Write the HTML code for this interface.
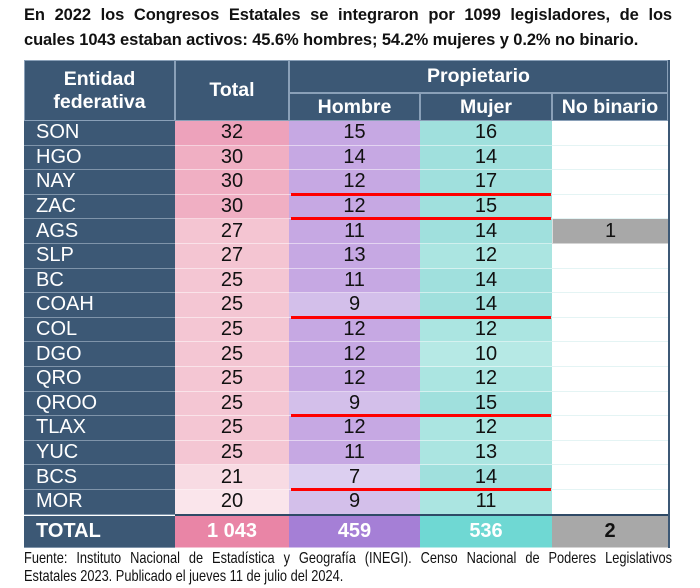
<!DOCTYPE html>
<html><head><meta charset="utf-8"><style>
body{margin:0;width:700px;height:588px;background:#fff;position:relative;overflow:hidden;font-family:"Liberation Sans",sans-serif}
.t{position:absolute;left:24px;width:648px;font-weight:bold;font-size:16.5px;color:#111;text-align:justify;text-align-last:justify;white-space:nowrap;letter-spacing:-0.1px}
.c{position:absolute;box-sizing:border-box;display:flex;align-items:center;justify-content:center;font-size:20px;color:#111;border-bottom:1px solid rgba(255,255,255,.5)}
.h{background:#3c5875;color:#fff;font-weight:bold;border:1px solid #8aa0b8}
.e{justify-content:flex-start;padding-left:12px;color:#fff;background:#3c5875;border-bottom:1px solid #7f94aa}
.r{position:absolute;height:3px;background:#f00;left:291px;width:260px}
.f{position:absolute;left:24px;font-size:16px;color:#111;transform:scaleX(.8);transform-origin:left;white-space:nowrap}
</style></head><body>
<div class="t" style="top:6px">En 2022 los Congresos Estatales se integraron por 1099 legisladores, de los</div>
<div class="t" style="top:31px;text-align-last:left;width:auto">cuales 1043 estaban activos: 45.6% hombres; 54.2% mujeres y 0.2% no binario.</div>
<div id="g"></div>
<div class="f" style="top:550px;width:810px;text-align:justify;text-align-last:justify">Fuente: Instituto Nacional de Estadística y Geografía (INEGI). Censo Nacional de Poderes Legislativos</div>
<div class="f" style="top:568px">Estatales 2023. Publicado el jueves 11 de julio del 2024.</div>
<script>
var g=document.getElementById('g'),H='';
function c(x,y,w,h,txt,cls,st){H+='<div class="c '+(cls||'')+'" style="left:'+x+'px;top:'+y+'px;width:'+w+'px;height:'+h+'px;'+(st||'')+'">'+txt+'</div>';}
c(24,60,151,61,'<div style="text-align:center;line-height:23px;font-size:19.5px">Entidad<br>federativa</div>','h');
c(175,60,114,61,'Total','h','font-size:19.5px');
c(289,60,379,33,'Propietario','h','font-size:19.5px');
c(289,93,131,28,'Hombre','h','font-size:19.5px');
c(420,93,132,28,'Mujer','h','font-size:19.5px');
c(552,93,116,28,'No binario','h','font-size:19.5px');
var d=[['SON',32,15,16],['HGO',30,14,14],['NAY',30,12,17],['ZAC',30,12,15],['AGS',27,11,14],['SLP',27,13,12],['BC',25,11,14],['COAH',25,9,14],['COL',25,12,12],['DGO',25,12,10],['QRO',25,12,12],['QROO',25,9,15],['TLAX',25,12,12],['YUC',25,11,13],['BCS',21,7,14],['MOR',20,9,11]];
var tc=['#eda2bb','#f0afc3','#f0afc3','#f0afc3','#f4c5d2','#f4c5d2','#f4c6d3','#f4c6d3','#f4c6d3','#f4c6d3','#f4c6d3','#f4c6d3','#f4c6d3','#f4c6d3','#f8dbe3','#fae5eb'];
d.forEach(function(r,i){var y=121+i*24.6,h=24.6;
c(24,y,151,h,r[0],'e');
c(175,y,114,h,r[1],'','background:'+tc[i]);
var hc=r[2]==9?'#d3bfea':(r[2]==7?'#dccff0':'#c6a8e3');
c(289,y,131,h,r[2],'','background:'+hc);
var mc=(r[3]==10)?'#b6e9e5':(r[3]==12||r[3]==13||r[3]==11)?'#abe5e1':'#a0e0dd';
c(420,y,132,h,r[3],'','background:'+mc);
c(552,y,116,h,i==4?'1':'','',i==4?'background:#a8a8a8;border-left:1px solid #ddd':'background:#fff;border-bottom:1px solid #e4f4f4');
});
[3,4,8,12,15].forEach(function(k){H+='<div class="r" style="top:'+(121+k*24.6-2)+'px"></div>';});
H+='<div style="position:absolute;left:175px;top:514px;width:493px;height:2px;background:#2f4a66"></div>';
c(24,516,151,32,'TOTAL','e','font-weight:bold;font-size:20px');
c(175,516,114,32,'1 043','','background:#e985a6;color:#fff;font-weight:bold');
c(289,516,131,32,'459','','background:#a57fd6;color:#fff;font-weight:bold');
c(420,516,132,32,'536','','background:#6fd8d3;color:#fff;font-weight:bold');
c(552,516,116,32,'2','','background:#a8a8a8;font-weight:bold');
H+='<div style="position:absolute;left:668px;top:60px;width:2px;height:488px;background:#3c5875"></div>';
g.innerHTML=H;
</script>
</body></html>
